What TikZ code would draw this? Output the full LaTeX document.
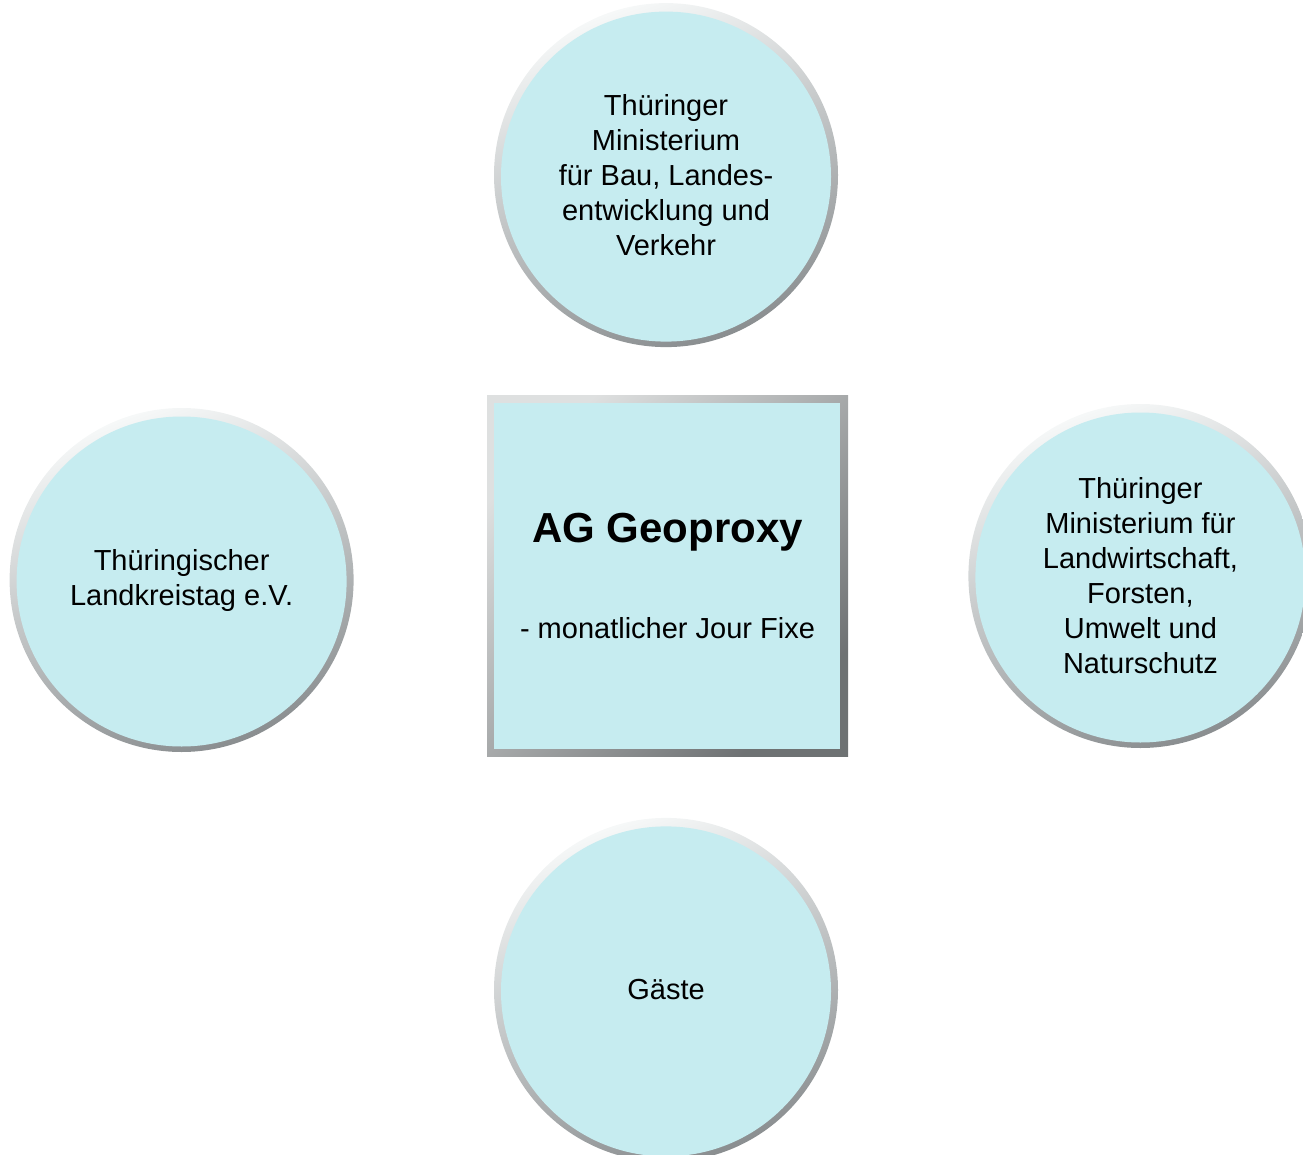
\documentclass[tikz,border=0pt]{standalone}
\usepackage{fontspec}
\setmainfont{Liberation Sans}
\usetikzlibrary{positioning, calc}
\definecolor{discCyan}{HTML}{C6ECF0}
\definecolor{rimLight}{HTML}{F6F8F8}
\definecolor{rimDark}{HTML}{8A8E90}
\tikzstyle{disc} =[circle, minimum size=344pt, inner sep=0pt, align=center, font=\fontsize{29}{35}\selectfont, top color=rimLight, bottom color=rimDark, shading angle=20, path picture={\fill[discCyan] ($(path picture bounding box.center)+(0,-1.5pt)$) circle (165pt);}]
\tikzstyle{agbox} =[rectangle, minimum size=361pt, inner sep=0pt, align=center, font=\fontsize{29}{35}\selectfont, top color=rimLight!80!gray, bottom color=rimDark!80!black, shading angle=45, path picture={\fill[discCyan] ($(path picture bounding box.north west)+(7pt,-7pt)$) rectangle ($(path picture bounding box.south east)+(-8pt,8pt)$);}]

\begin{document}
\begin{tikzpicture}[x=1pt, y=-1pt]
\useasboundingbox (0,0) rectangle (1303,1155);

\node (ag) [agbox] at (667.5,576) {{\fontsize{42}{48}\selectfont\bfseries AG Geoproxy}\\[61pt]- monatlicher Jour Fixe};

\node (bau) [disc, above=48pt of ag, xshift=-1.5pt] {Thüringer\\Ministerium\\für Bau, Landes-\\entwicklung und\\Verkehr};

\node (landkreis) [disc, left=133pt of ag, yshift=-4pt] {Thüringischer\\Landkreistag e.V.};

\node (forst) [disc, right=120pt of ag] {Thüringer\\Ministerium für\\Landwirtschaft,\\Forsten,\\Umwelt und\\Naturschutz};

\node (gaeste) [disc, below=61pt of ag, xshift=-1.5pt] {Gäste};

\end{tikzpicture}
\end{document}
